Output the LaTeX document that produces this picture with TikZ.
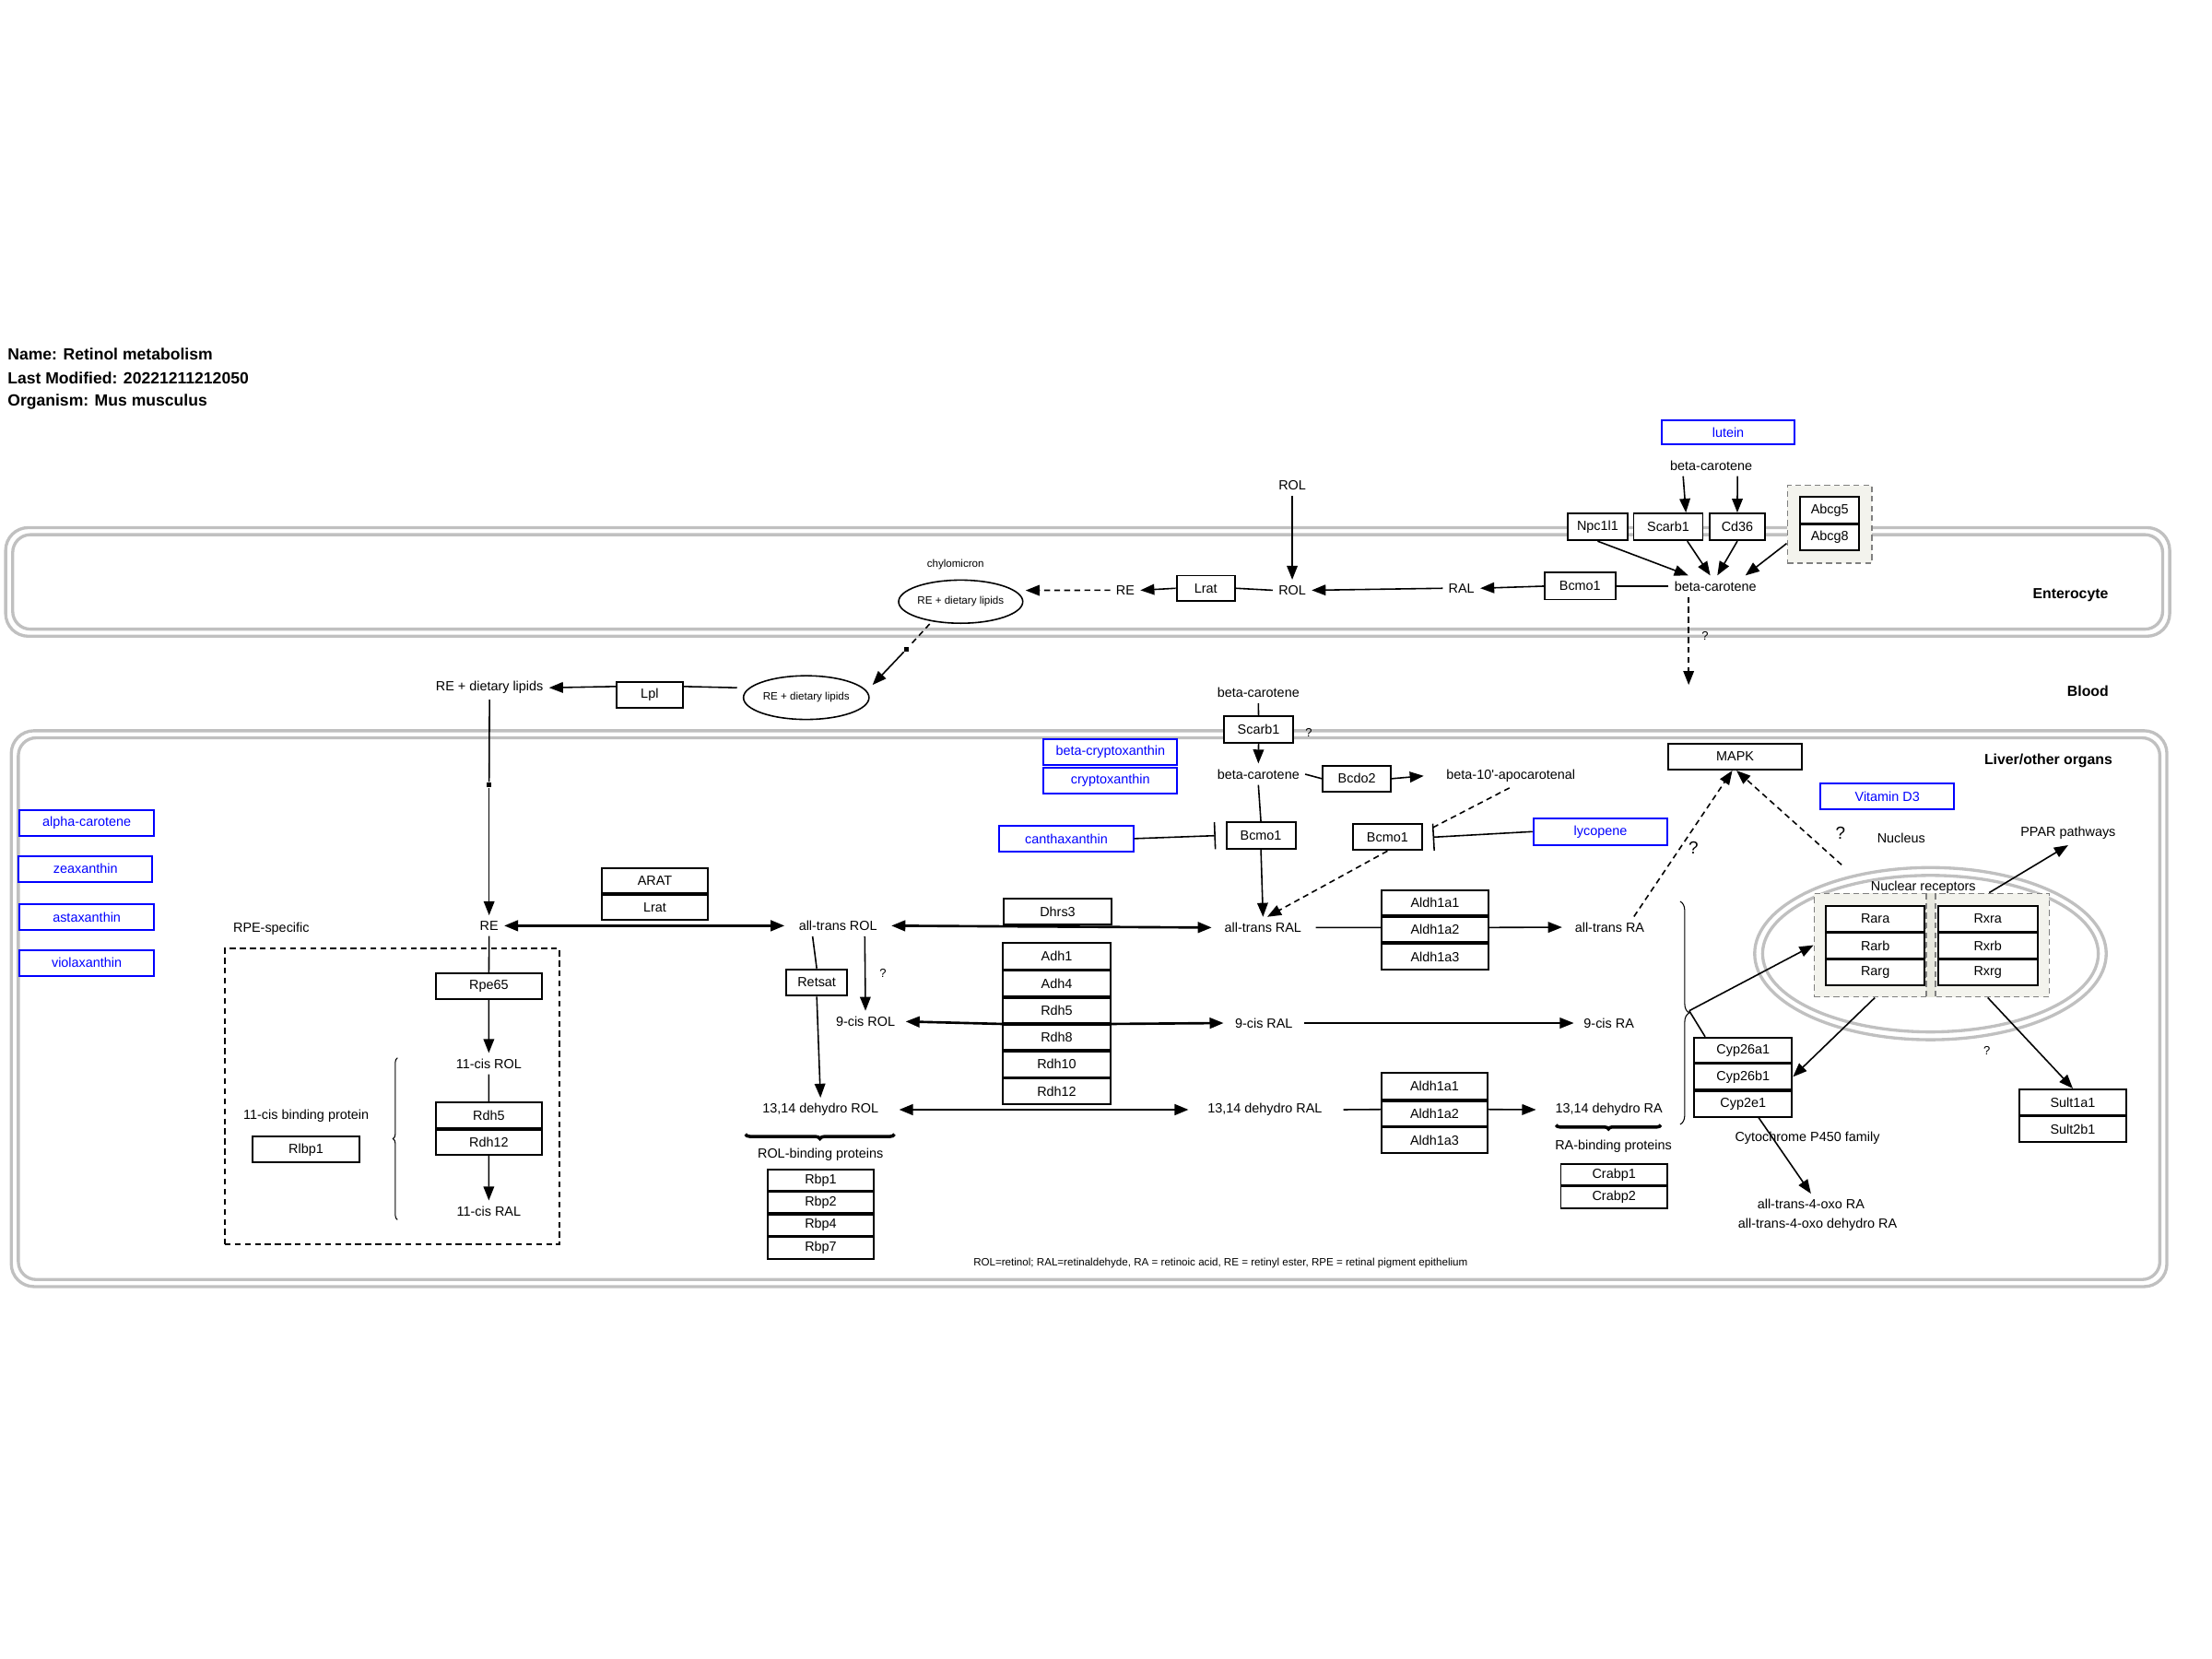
\documentclass[tikz,border=0pt]{standalone}
\usepackage{fontspec}
\setmainfont{Liberation Sans}
\usetikzlibrary{arrows.meta,calc,fit,shapes.geometric,decorations.pathreplacing}
\newcommand\fsN{\fontsize{4.1pt}{4.9pt}\selectfont}
\newcommand\fsS{\fontsize{3.3pt}{4pt}\selectfont}
\newcommand\fsQ{\fontsize{3.7pt}{4.4pt}\selectfont}
\newcommand\fsQL{\fontsize{5.4pt}{6.5pt}\selectfont}
\newcommand\fsB{\fontsize{4.5pt}{5.4pt}\selectfont\bfseries}
\newcommand\fsT{\fontsize{5pt}{6pt}\selectfont\bfseries}
% box from corner (x1,y1) to corner (x2,y2): style, name, x1, y1, x2, y2, text
\newcommand\boxnode[7]{\node[#1, minimum width={(#5-#3)*0.015306cm}, minimum height={(#6-#4)*0.015306cm}] (#2) at ({(#3+#5)/2},{(#4+#6)/2}) {#7};}
\definecolor{membgray}{RGB}{192,192,192}
\definecolor{grpfill}{RGB}{243,243,237}
\definecolor{grpfilldark}{RGB}{232,232,222}
\definecolor{grpedge}{RGB}{128,128,128}
\definecolor{metblue}{RGB}{0,0,255}
\begin{document}
\begin{tikzpicture}[x=0.015306cm,y=-0.015306cm,
  lbl/.style={font=\fsN, inner sep=1.6pt},
  gbox/.style={draw=black, line width=0.55pt, fill=white, inner sep=0pt, font=\fsN},
  mbox/.style={draw=metblue, line width=0.6pt, fill=white, inner sep=0pt, font=\fsN, text=metblue},
  grp/.style={draw=grpedge, dash pattern=on 1.8pt off 1.2pt, line width=0.45pt, fill=grpfill, inner sep=0pt},
  grpedgeonly/.style={draw=grpedge, dash pattern=on 1.8pt off 1.2pt, line width=0.45pt},
  rpegrp/.style={draw, dash pattern=on 1.8pt off 1.3pt, line width=0.5pt, inner sep=0pt},
  memb/.style={draw=membgray, line width=0.95pt},
  conn/.style={line width=0.45pt},
  arr/.style={conn, -{Triangle[length=4.3pt,width=3.3pt]}},
  darr/.style={line width=0.75pt, {Triangle[length=4.3pt,width=3.3pt]}-{Triangle[length=4.3pt,width=3.3pt]}},
  tarr/.style={line width=0.75pt, -{Triangle[length=4.3pt,width=3.3pt]}},
  dline/.style={conn, dash pattern=on 1.8pt off 1.3pt},
  darrow/.style={dline, -{Triangle[length=4.3pt,width=3.3pt]}},
  inh/.style={conn, -{Bar[width=8.3pt]}},
  sqmark/.style={fill=black, inner sep=0pt, minimum size=1.4pt},
  ell/.style={ellipse, draw, line width=0.45pt, inner sep=0pt, font=\fsS},
  bracev/.style={decorate, line width=0.3pt},
  braceh/.style={decorate, line width=1pt},
]
\useasboundingbox (0,0) rectangle (1568,1176);

% ---------- compartments ----------
\draw[memb, rounded corners=7pt] (4,374) rectangle (1538,451);
\draw[memb, rounded corners=5.5pt] (9,379) rectangle (1533,446);
\draw[memb, rounded corners=7pt] (8,518) rectangle (1536,912);
\draw[memb, rounded corners=5.5pt] (13,523) rectangle (1531,907);
\draw[memb] (1368.4,676) ellipse [x radius=1.907cm, y radius=0.934cm];
\draw[memb] (1368.4,676) ellipse [x radius=1.821cm, y radius=0.849cm];

% ---------- header ----------
\node[anchor=west, font=\fsT, inner sep=0pt] (hName) at (5,251) {Name: Retinol metabolism};
\node[anchor=west, font=\fsT, inner sep=0pt] (hMod) at (5,268) {Last Modified: 20221211212050};
\node[anchor=west, font=\fsT, inner sep=0pt] (hOrg) at (5,285) {Organism: Mus musculus};

\node[font=\fsB] (cEnt) at (1467.7,421.9) {Enterocyte};
\node[font=\fsB] (cBlood) at (1480,490.2) {Blood};
\node[font=\fsB] (cLiver) at (1452,539.5) {Liver/other organs};

% ---------- enterocyte ----------
\boxnode{mbox}{lutein}{1178}{298}{1272}{315}{lutein}
\node[lbl] (bcTop) at (1213,330) {beta-carotene};
\boxnode{gbox}{npc}{1111}{364}{1154}{383}{Npc1l1}
\boxnode{gbox}{scarbE}{1158}{364}{1207}{383}{Scarb1}
\boxnode{gbox}{cd36}{1212}{364}{1251}{383}{Cd36}
\boxnode{grp}{abcg}{1267}{344}{1327}{399}{}
\boxnode{gbox}{abcg5}{1276}{352}{1318}{371}{Abcg5}
\boxnode{gbox}{abcg8}{1276}{372}{1318}{390}{Abcg8}
\node[lbl] (bcIn) at (1216,415.5) {beta-carotene};
\boxnode{gbox}{bcmoE}{1095}{406}{1145}{425}{Bcmo1}
\node[lbl] (ralE) at (1036,417) {RAL};
\node[lbl] (rolE) at (916,418.4) {ROL};
\node[lbl] (rolTop) at (916,344) {ROL};
\boxnode{gbox}{lratE}{834}{408}{875.5}{426}{Lrat}
\node[lbl] (reE) at (797.7,418.4) {RE};
\node[font=\fsS] (chylo) at (677.3,400) {chylomicron};
\node[ell, minimum width=1.347cm, minimum height=0.468cm] (ell1) at (681,426.5) {RE + dietary lipids};
\node[sqmark] (sqA) at (642.7,460) {};
\node[ell, minimum width=1.362cm, minimum height=0.474cm] (ell2) at (571.5,494.5) {RE + dietary lipids};
\boxnode{gbox}{lpl}{437}{483.5}{484}{502}{Lpl}
\node[lbl] (reLip) at (347,487.5) {RE + dietary lipids};
\node[sqmark] (sqB) at (346.7,556.4) {};
\coordinate (bcOut) at (1197,485.5);
\node[font=\fsQ] (qE) at (1208.6,451) {?};

% ---------- liver: carotenoid cleavage ----------
\node[lbl] (bcBlood) at (892,491) {beta-carotene};
\boxnode{gbox}{scarbL}{867.6}{507.9}{916.7}{526.4}{Scarb1}
\node[font=\fsQ] (qS) at (927.7,519.4) {?};
\node[lbl] (bcL) at (892,548.8) {beta-carotene};
\boxnode{gbox}{bcdo2}{937.6}{542.7}{986}{561.2}{Bcdo2}
\node[lbl] (apo) at (1071,550) {beta-10\textquotesingle-apocarotenal};
\boxnode{gbox}{bcmoL1}{869.3}{583}{918.3}{601.7}{Bcmo1}
\boxnode{gbox}{bcmoL2}{959}{584.3}{1008}{602.6}{Bcmo1}
\boxnode{mbox}{bcrypto}{739.8}{523.8}{834.5}{542.1}{beta-cryptoxanthin}
\boxnode{mbox}{crypto}{739.8}{544.2}{834.5}{562.3}{cryptoxanthin}
\boxnode{mbox}{cantha}{708.4}{585.2}{803.3}{603.7}{canthaxanthin}
\boxnode{mbox}{lyco}{1087}{580}{1182}{599}{lycopene}

\boxnode{mbox}{alpha}{14}{574}{109}{592.4}{alpha-carotene}
\boxnode{mbox}{zea}{13.3}{606.8}{108}{625}{zeaxanthin}
\boxnode{mbox}{asta}{14}{641}{109}{659.4}{astaxanthin}
\boxnode{mbox}{viola}{14}{673.4}{109}{691.7}{violaxanthin}

% ---------- liver: retinoid metabolism ----------
\node[lbl] (atRAL) at (895.3,657.5) {all-trans RAL};
\node[lbl] (atROL) at (594,656.2) {all-trans ROL};
\node[lbl] (atRA) at (1141,657.3) {all-trans RA};
\boxnode{gbox}{dhrs3}{711.7}{637}{787.7}{655.5}{Dhrs3}
\boxnode{gbox}{aldhA1}{979.4}{631}{1055}{649}{Aldh1a1}
\boxnode{gbox}{aldhA2}{979.4}{650}{1055}{668}{Aldh1a2}
\boxnode{gbox}{aldhA3}{979.4}{669}{1055}{687.5}{Aldh1a3}
\boxnode{gbox}{arat}{426.6}{615.2}{501.7}{633.1}{ARAT}
\boxnode{gbox}{lratL}{426.6}{634.2}{501.7}{652.2}{Lrat}
\node[lbl] (reL) at (346.7,656.2) {RE};
\boxnode{gbox}{retsat}{557.2}{687.1}{600.7}{705.8}{Retsat}
\node[font=\fsQ] (qR) at (625.9,689.9) {?};
\node[lbl] (nineROL) at (613.5,724.1) {9-cis ROL};
\node[lbl] (nineRAL) at (895.9,725.2) {9-cis RAL};
\node[lbl] (nineRA) at (1140.5,725.2) {9-cis RA};
\boxnode{gbox}{adh1}{711}{668.6}{787.1}{687.1}{Adh1}
\boxnode{gbox}{adh4}{711}{688.2}{787.1}{706.3}{Adh4}
\boxnode{gbox}{rdh5A}{711}{707.4}{787.1}{725.2}{Rdh5}
\boxnode{gbox}{rdh8}{711}{726.3}{787.1}{744.4}{Rdh8}
\boxnode{gbox}{rdh10}{711}{745.3}{787.1}{763.6}{Rdh10}
\boxnode{gbox}{rdh12A}{711}{764.4}{787.1}{782.9}{Rdh12}
\node[lbl] (dhROL) at (581.6,786.6) {13,14 dehydro ROL};
\node[lbl] (dhRAL) at (896.6,786.6) {13,14 dehydro RAL};
\node[lbl] (dhRA) at (1140.5,786.6) {13,14 dehydro RA};
\boxnode{gbox}{aldhB1}{979.2}{760.7}{1054.6}{779.2}{Aldh1a1}
\boxnode{gbox}{aldhB2}{979.2}{780.5}{1054.6}{798.2}{Aldh1a2}
\boxnode{gbox}{aldhB3}{979.2}{799.2}{1054.6}{817.3}{Aldh1a3}
\node[lbl] (rolBP) at (581.6,818.2) {ROL-binding proteins};
\boxnode{gbox}{rbp1}{544.1}{829.3}{619.5}{844.1}{Rbp1}
\boxnode{gbox}{rbp2}{544.1}{845}{619.5}{859.8}{Rbp2}
\boxnode{gbox}{rbp4}{544.1}{860.9}{619.5}{875.9}{Rbp4}
\boxnode{gbox}{rbp7}{544.1}{877}{619.5}{892.3}{Rbp7}
\node[lbl] (raBP) at (1143.7,812.7) {RA-binding proteins};
\boxnode{gbox}{crabp1}{1106.4}{825.4}{1181.8}{840.2}{Crabp1}
\boxnode{gbox}{crabp2}{1106.4}{841}{1181.8}{856.6}{Crabp2}

% ---------- RPE ----------
\node[lbl] (rpeLbl) at (192.3,658.1) {RPE-specific};
\boxnode{rpegrp}{rpeBox}{159.3}{672.5}{396.6}{882}{}
\boxnode{gbox}{rpe65}{308.9}{690}{384.2}{708.2}{Rpe65}
\node[lbl] (cisROL) at (346.5,754) {11-cis ROL};
\boxnode{gbox}{rdh5R}{308.9}{781.4}{384.2}{799.7}{Rdh5}
\boxnode{gbox}{rdh12R}{308.9}{800.8}{384.2}{818.8}{Rdh12}
\node[lbl] (cisRAL) at (346.5,858.5) {11-cis RAL};
\node[lbl] (cisBP) at (217,791.2) {11-cis binding protein};
\boxnode{gbox}{rlbp1}{179}{805.8}{254.9}{824.1}{Rlbp1}

% ---------- signalling / nucleus ----------
\boxnode{gbox}{mapk}{1182.6}{527}{1277.3}{545.6}{MAPK}
\boxnode{mbox}{vitd}{1290.4}{555.3}{1385.3}{573.8}{Vitamin D3}
\node[lbl] (nucl) at (1347.7,593.9) {Nucleus};
\node[lbl] (ppar) at (1466,590.6) {PPAR pathways};
\node[font=\fsQL] (qM1) at (1200.4,601) {?};
\node[font=\fsQL] (qM2) at (1304.7,590.7) {?};
\coordinate (nucOut) at (1305.4,613);
\node[font=\fsN, inner sep=0pt] (nucRec) at (1363.3,628.7) {Nuclear receptors};
\boxnode{grp}{rarG}{1286}{633.3}{1372}{706.7}{}
\boxnode{grp}{rxrG}{1365.5}{633.3}{1452.6}{706.7}{}
\fill[grpfilldark] (1365.5,633.3) rectangle (1372,706.7);
\draw[grpedgeonly] (1365.5,633.3) -- (1365.5,706.7);
\draw[grpedgeonly] (1372,633.3) -- (1372,706.7);
\boxnode{gbox}{rara}{1294.3}{642}{1364.3}{660.3}{Rara}
\boxnode{gbox}{rarb}{1294.3}{661.2}{1364.3}{679.5}{Rarb}
\boxnode{gbox}{rarg}{1294.3}{680.3}{1364.3}{698.6}{Rarg}
\boxnode{gbox}{rxra}{1373.8}{642}{1444.3}{660.3}{Rxra}
\boxnode{gbox}{rxrb}{1373.8}{661.2}{1444.3}{679.5}{Rxrb}
\boxnode{gbox}{rxrg}{1373.8}{680.3}{1444.3}{698.6}{Rxrg}
\boxnode{gbox}{cypA}{1200.9}{735.5}{1270.3}{753.5}{Cyp26a1}
\boxnode{gbox}{cypB}{1200.9}{754.2}{1270.3}{772.4}{Cyp26b1}
\boxnode{gbox}{cypC}{1200.9}{773.5}{1270.3}{791.6}{Cyp2e1}
\node[lbl] (p450) at (1281.2,806.4) {Cytochrome P450 family};
\node[lbl] (oxo1) at (1283.7,853.7) {all-trans-4-oxo RA};
\node[lbl] (oxo2) at (1288.4,867.8) {all-trans-4-oxo dehydro RA};
\boxnode{gbox}{sultA}{1431.5}{772.2}{1507.2}{790.5}{Sult1a1}
\boxnode{gbox}{sultB}{1431.5}{791.4}{1507.2}{809.5}{Sult2b1}
\node[font=\fsQ] (qN) at (1408.4,744.8) {?};
\coordinate (raBr) at (1197.4,716.5);

\node[font=\fsS] (foot) at (865.2,895.7) {ROL=retinol; RAL=retinaldehyde, RA = retinoic acid, RE = retinyl ester, RPE = retinal pigment epithelium};

% ---------- connectors: enterocyte ----------
\draw[arr] ($(bcTop.south west)!0.2!(bcTop.south east)$) -- ($(scarbE.north west)!0.75!(scarbE.north east)$);
\draw[arr] ($(bcTop.south west)!0.78!(bcTop.south east)$) -- (cd36.north);
\draw[arr] (npc.south) -- ($(bcIn.north west)!0.21!(bcIn.north east)$);
\draw[arr] ($(scarbE.south west)!0.77!(scarbE.south east)$) -- ($(bcIn.north west)!0.445!(bcIn.north east)$);
\draw[arr] (cd36.south) -- ($(bcIn.north west)!0.52!(bcIn.north east)$);
\draw[arr] ($(abcg.north west)!0.745!(abcg.south west)$) -- ($(bcIn.north west)!0.82!(bcIn.north east)$);
\draw[conn] (bcIn.west) -- (bcmoE.east);
\draw[arr] (bcmoE.west) -- (ralE.east);
\draw[arr] (ralE.west) -- (rolE.east);
\draw[arr] (rolTop.south) -- (rolE.north);
\draw[conn] (rolE.west) -- (lratE.east);
\draw[arr] (lratE.west) -- (reE.east);
\draw[darrow] (reE.west) -- ($(ell1.east)+(1.5,-8)$);
\draw[dline] ($(ell1.south)+(-22,0)$) -- (sqA);
\draw[arr] (sqA) -- ($(ell2.east)+(2,-9)$);
\draw[conn] ($(ell2.west)+(-4,-7)$) -- ($(lpl.north east)!0.19!(lpl.south east)$);
\draw[arr] ($(lpl.north west)!0.19!(lpl.south west)$) -- (reLip.east);
\draw[conn] (reLip.south) -- (sqB);
\draw[arr] (sqB) -- (reL.north);
\draw[darrow] ($(bcIn.south)+(-19,0)$) -- (bcOut);

% ---------- connectors: carotenoid cleavage ----------
\draw[conn] (bcBlood.south) -- (scarbL.north);
\draw[arr] (scarbL.south) -- (bcL.north);
\draw[conn] (bcL.east) -- (bcdo2.west);
\draw[arr] (bcdo2.east) -- ($(apo.west)+(-12,0)$);
\draw[conn] (bcL.south) -- (bcmoL1.north);
\draw[arr] (bcmoL1.south) -- (atRAL.north);
\draw[darrow] (bcmoL2.south) -- ($(atRAL.north)+(3,0)$);
\draw[inh] (cantha.east) -- ($(bcmoL1.west)+(-7,0)$);
\draw[inh] (lyco.west) -- ($(bcmoL2.east)+(7,0)$);
\draw[dline] ($(apo.south)+(-1,0)$) -- ($(bcmoL2.north east)+(5,4)$);

% ---------- connectors: retinoids ----------
\draw[darr] (reL.east) -- ($(atROL.west)+(-6,0)$);
\draw[darr] ($(atROL.east)+(6,0)$) -- ($(atRAL.west)+(-5,0)$);
\draw[conn] ($(atRAL.east)+(6,0)$) -- ($(aldhA2.north west)!0.42!(aldhA2.south west)$);
\draw[arr] ($(aldhA2.north east)!0.42!(aldhA2.south east)$) -- ($(atRA.west)+(-5,0)$);
\draw[conn] ($(atROL.south)+(-18,0)$) -- (retsat.north);
\draw[arr] (retsat.south) -- (dhROL.north);
\draw[arr] ($(atROL.south)+(19,0)$) -- (nineROL.north);
\draw[tarr] (rdh5A.south west) -- ($(nineROL.east)+(3.4,0)$);
\draw[tarr] (rdh5A.south east) -- ($(nineRAL.west)+(-4,0)$);
\draw[arr] ($(nineRAL.east)+(4,0)$) -- ($(nineRA.west)+(-3,0)$);
\draw[darr] ($(dhROL.east)+(10.5,0)$) -- ($(dhRAL.west)+(-9.4,0)$);
\draw[conn] ($(dhRAL.east)+(11,0)$) -- ($(aldhB2.north west)!0.345!(aldhB2.south west)$);
\draw[arr] ($(aldhB2.north east)!0.345!(aldhB2.south east)$) -- ($(dhRA.west)+(-9.6,0)$);
\draw[braceh, decoration={brace, amplitude=1.4pt}] (634.1,804) -- (528.4,804);
\draw[braceh, decoration={brace, amplitude=1.2pt}] (1177.3,797.5) -- (1103,797.5);

% ---------- connectors: RPE ----------
\draw[conn] (reL.south) -- (rpe65.north);
\draw[arr] (rpe65.south) -- (cisROL.north);
\draw[conn] (cisROL.south) -- (rdh5R.north);
\draw[arr] (rdh12R.south) -- (cisRAL.north);
\draw[bracev, decoration={brace, amplitude=1.4pt}] (281.8,864.6) -- (281.8,749.8);

% ---------- connectors: signalling / nucleus ----------
\draw[darrow] ($(atRA.north)!0.6!(atRA.north east)$) -- ($(mapk.south)+(-2,0)$);
\draw[darrow] (nucOut) -- ($(mapk.south)+(1,0)$);
\draw[arr] ($(rxrG.north)+(1,0)$) -- (ppar.south);
\draw[bracev, decoration={brace, amplitude=2.8pt}] (1191,639) -- (1191,797);
\draw[conn] ($(cypA.north west)+(8.4,0)$) -- (raBr);
\draw[arr] (raBr) -- (rarG.west);
\draw[arr] (rarG.south) -- (cypB.east);
\draw[arr] (rxrG.south) -- (sultA.north);
\draw[arr] ($(cypC.south)+(11,0)$) -- (oxo1.north);
\end{tikzpicture}
\end{document}
